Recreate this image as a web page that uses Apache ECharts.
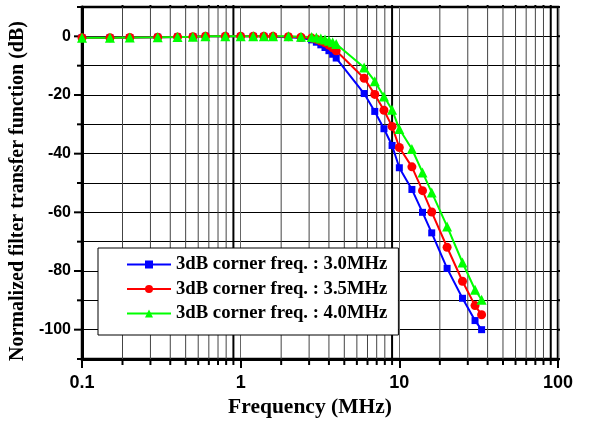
<!DOCTYPE html>
<html>
<head>
<meta charset="utf-8">
<script src="https://cdn.jsdelivr.net/npm/echarts@6/dist/echarts.min.js"></script>
<style>
  html, body { margin: 0; padding: 0; background: #fff; }
  #main { width: 590px; height: 428px; }
</style>
</head>
<body>
<div id="main"></div>
<script>
// frequencies (MHz) of the measured points
var freqs = [0.1, 0.15, 0.2, 0.3, 0.4, 0.5, 0.6, 0.8, 1.0, 1.2, 1.4, 1.6, 2.0, 2.4,
  2.8, 3.0, 3.2, 3.4, 3.6, 3.8, 4.0, 6, 7, 8, 9, 10, 12, 14, 16, 20, 25, 30, 33];
// normalized response (dB)
var resp30 = [-0.5, -0.5, -0.4, -0.3, -0.2, -0.1, 0, 0, 0, 0, 0, -0.1, -0.3, -0.6,
  -1.2, -2.0, -2.9, -3.8, -4.9, -6.1, -7.4, -19.5, -25.6, -31.5, -37.2, -44.8, -52.2, -60.0, -67.0, -79.1, -89.3, -96.9, -100];
var resp35 = [-0.5, -0.5, -0.4, -0.3, -0.2, -0.1, 0, 0, 0, 0, 0, 0, -0.1, -0.3,
  -0.6, -1.0, -1.6, -2.2, -3.0, -3.9, -4.9, -14.3, -19.8, -25.2, -30.7, -37.9, -44.5, -52.6, -59.9, -71.9, -83.5, -91.8, -94.9];
var resp40 = [-0.5, -0.5, -0.4, -0.3, -0.2, -0.1, 0, 0, 0, 0, 0, 0, 0, -0.1,
  -0.2, -0.4, -0.7, -1.1, -1.5, -2.0, -2.6, -10.6, -15.3, -20.5, -25.0, -31.6, -38.4, -46.4, -53.2, -64.8, -77.1, -86.4, -89.8];
var seriesNames = ['3dB corner freq. : 3.0MHz', '3dB corner freq. : 3.5MHz', '3dB corner freq. : 4.0MHz'];

// grid lines / ticks
var minorFreqs = [0.18, 0.27, 0.36, 0.45, 0.54, 0.63, 0.72, 0.81,
  1.8, 2.7, 3.6, 4.5, 5.4, 6.3, 7.2, 8.1,
  18, 27, 36, 45, 54, 63, 72, 81];
var boldFreqs = [0.9, 9, 90];
var yLabelTicks = [-100, -80, -60, -40, -20, 0];
var yMinorTicks = [-110, -90, -70, -50, -30, -10, 10];

var X_MIN = 0.1, X_MAX = 100, Y_MIN = -110, Y_MAX = 10;

function pairs(xs, ys) {
  return xs.map(function (x, i) { return [x, ys[i]]; });
}

function vGrid(params, api) {
  var f = api.value(0);
  var top = api.coord([f, Y_MAX]);
  var bot = api.coord([f, Y_MIN]);
  var bold = boldFreqs.indexOf(f) >= 0;
  return {
    type: 'group',
    children: [
      { type: 'line', shape: { x1: top[0], y1: top[1], x2: bot[0], y2: bot[1] },
        style: { stroke: bold ? '#000' : '#444', lineWidth: bold ? 2 : 1 } },
      { type: 'line', shape: { x1: bot[0], y1: bot[1], x2: bot[0], y2: bot[1] + 6 },
        style: { stroke: '#000', lineWidth: 2 } },
      { type: 'line', shape: { x1: top[0], y1: top[1], x2: top[0], y2: top[1] - 2 },
        style: { stroke: '#000', lineWidth: 2 } }
    ]
  };
}

function yTicks(params, api) {
  var v = api.value(1);
  var major = yLabelTicks.indexOf(v) >= 0;
  var l = api.coord([X_MIN, v]);
  var r = api.coord([X_MAX, v]);
  return {
    type: 'group',
    children: [
      { type: 'line', shape: { x1: l[0], y1: l[1], x2: l[0] - (major ? 8 : 5), y2: l[1] },
        style: { stroke: '#000', lineWidth: 2 } },
      { type: 'line', shape: { x1: r[0], y1: r[1], x2: r[0] + 2, y2: r[1] },
        style: { stroke: '#000', lineWidth: 2 } }
    ]
  };
}

var myChart = echarts.init(document.getElementById('main'));

var serif = 'Liberation Serif';
var sans = 'Liberation Sans';

var option = {
  animation: false,
  backgroundColor: '#fff',
  grid: {
    left: 82, right: 32, top: 7, bottom: 69,
    show: true,
    borderColor: '#000',
    borderWidth: 2.5
  },
  legend: {
    orient: 'vertical',
    left: 98,
    top: 248,
    data: seriesNames,
    backgroundColor: '#fff',
    borderColor: '#000',
    borderWidth: 1,
    padding: [7, 11, 12, 28],
    itemWidth: 44,
    itemHeight: 10,
    itemGap: 5.5,
    textStyle: {
      fontFamily: serif,
      fontWeight: 'bold',
      fontSize: 18.7,
      color: '#000'
    }
  },
  xAxis: {
    type: 'log',
    logBase: 10,
    min: X_MIN,
    max: X_MAX,
    name: 'Frequency (MHz)',
    nameLocation: 'middle',
    nameGap: 32,
    nameTextStyle: {
      fontFamily: serif, fontWeight: 'bold', fontSize: 21.5, color: '#000',
      padding: [0, 20, 0, 0]
    },
    axisLine: { onZero: false, lineStyle: { color: '#000', width: 3 } },
    axisTick: { inside: false, length: 9, lineStyle: { color: '#000', width: 2 } },
    axisLabel: {
      margin: 15,
      fontFamily: sans, fontWeight: 'bold', fontSize: 18, color: '#000',
      formatter: function (v) { return String(v); }
    },
    splitLine: { show: true, lineStyle: { color: '#666', width: 1 } }
  },
  yAxis: {
    type: 'value',
    min: Y_MIN,
    max: Y_MAX,
    interval: 10,
    name: 'Normalized filter transfer function (dB)',
    nameLocation: 'middle',
    nameGap: 54,
    nameTextStyle: {
      fontFamily: serif, fontWeight: 'bold', fontSize: 20, color: '#000',
      padding: [0, 16, 0, 0]
    },
    axisLine: { onZero: false, lineStyle: { color: '#000', width: 3 } },
    axisTick: { show: false },
    axisLabel: {
      margin: 11,
      fontFamily: sans, fontWeight: 'bold', fontSize: 16, color: '#000',
      formatter: function (v) { return v % 20 === 0 ? String(v) : ''; }
    },
    splitLine: { show: true, lineStyle: { color: '#000', width: 1 } }
  },
  series: [
    {
      type: 'custom',
      renderItem: vGrid,
      data: minorFreqs.concat(boldFreqs).map(function (f) { return [f, Y_MIN]; }),
      silent: true,
      z: 1
    },
    {
      type: 'custom',
      renderItem: yTicks,
      data: yLabelTicks.concat(yMinorTicks).map(function (v) { return [X_MIN, v]; }),
      silent: true,
      z: 1
    },
    {
      name: seriesNames[0],
      type: 'line',
      data: pairs(freqs, resp30),
      symbol: 'rect',
      symbolSize: 7,
      color: '#0000ff',
      lineStyle: { width: 2, color: '#0000ff' }
    },
    {
      name: seriesNames[1],
      type: 'line',
      data: pairs(freqs, resp35),
      symbol: 'circle',
      symbolSize: 9,
      color: '#ff0000',
      lineStyle: { width: 2, color: '#ff0000' }
    },
    {
      name: seriesNames[2],
      type: 'line',
      data: pairs(freqs, resp40),
      symbol: 'triangle',
      symbolSize: 10,
      color: '#00ff00',
      lineStyle: { width: 2, color: '#00ff00' }
    }
  ]
};

myChart.setOption(option);
</script>
</body>
</html>
